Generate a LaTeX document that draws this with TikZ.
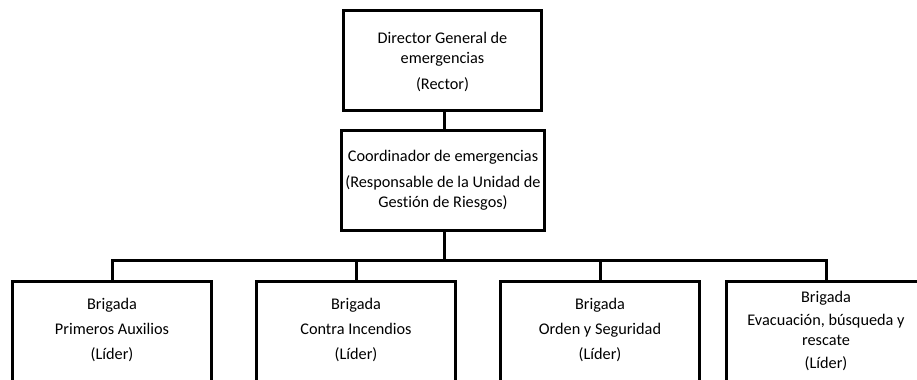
\documentclass[tikz,border=0pt]{standalone}
\usepackage{fontspec}
\setmainfont{Carlito}[Ligatures=CommonOff]
\begin{document}
\begin{tikzpicture}[x=0.75pt,y=-0.75pt,
  box/.style={draw=black,line width=2.25pt,inner sep=0pt,minimum height=75pt},
  wide/.style={minimum width=149.25pt},
  txt/.style={align=center,inner sep=0pt,font=\fontsize{12.2}{15}\selectfont},
  conn/.style={draw=black,line width=2.25pt}]
\useasboundingbox[fill=white] (0,0) rectangle (917,379);
% boxes
\node[box,minimum width=148.5pt] (dir) at (442.5,60.5) {};
\node[box,minimum width=152.25pt] (coord) at (443,180.5) {};
\node[box,wide,minimum height=78pt] (b1) at (112,333.5) {};
\node[box,wide,minimum height=78pt] (b2) at (356,333.5) {};
\node[box,wide,minimum height=78pt] (b3) at (600,333.5) {};
\node[box,wide,minimum height=78pt] (b4) at (826,333.5) {};
% texts
\node[txt] (tdir) at (442.5,62) {Director General de\\emergencias\\[4pt](Rector)};
\node[txt] (tcoord) at (443,180) {Coordinador de emergencias\\[4.5pt](Responsable de la Unidad de\\Gestión de Riesgos)};
\node[txt] (t1) at (112,330) {Brigada\\[3.75pt]Primeros Auxilios\\[3.75pt](Líder)};
\node[txt] (t2) at (356,330) {Brigada\\[3.75pt]Contra Incendios\\[3.75pt](Líder)};
\node[txt] (t3) at (600,330) {Brigada\\[3.75pt]Orden y Seguridad\\[3.75pt](Líder)};
\node[txt] (t4) at (826,330.5) {Brigada\\[2.25pt]Evacuación, búsqueda y\\rescate\\[2.25pt](Líder)};
% connectors
\coordinate (bus) at (444,260);
\draw[conn] (dir.south -| bus) -- (coord.north -| bus);
\draw[conn] (coord.south -| bus) -- (bus);
\draw[conn,line cap=rect] (bus) -| (b1.north);
\draw[conn,line cap=rect] (bus) -| (b2.north);
\draw[conn,line cap=rect] (bus) -| (b3.north);
\draw[conn,line cap=rect] (bus) -| (b4.north);
\end{tikzpicture}
\end{document}
